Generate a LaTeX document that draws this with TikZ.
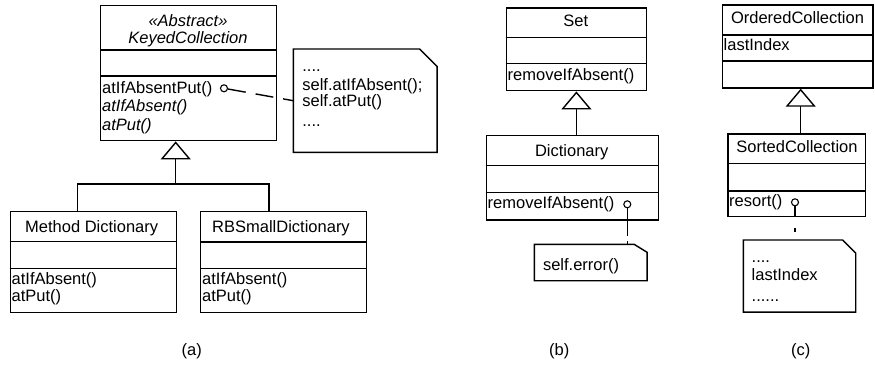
\documentclass[tikz,border=0pt]{standalone}
\usepackage{fontspec}
\setmainfont{Liberation Sans}
\usetikzlibrary{arrows.meta,calc}
\newcommand{\dfont}{\fontsize{16.5}{17}\selectfont}
\begin{document}
\begin{tikzpicture}[x=1pt,y=-1pt,line width=1.4pt,
  box/.style={draw, rectangle, inner sep=0pt, anchor=north west},
  notebox/.style={rectangle, inner sep=0pt, anchor=north west},
  t/.style={inner sep=0pt, anchor=base west, font=\dfont},
  tc/.style={inner sep=0pt, anchor=base, font=\dfont},
  it/.style={font=\dfont\itshape},
  inh/.style={-{Triangle[open,width=30pt,length=18pt]}},
  knob/.style={circle, draw, fill=white, inner sep=0pt, minimum size=7pt, line width=1.1pt}]
\useasboundingbox (0,0) rectangle (875,364);

% ---------- (a) ----------
\node[box, minimum width=176pt, minimum height=135pt] (kc) at (100,5) {};
\draw (kc.north west) ++(0,45) -- ++(176,0);
\draw (kc.north west) ++(0,71) -- ++(176,0);
\node[tc, it] (kcs) at (188,26) {«Abstract»};
\node[tc, it] (kcn) at (188,43.3) {KeyedCollection};
\node[t] (kcm1) at (101.5,93.3) {atIfAbsentPut()};
\node[t, it] (kcm2) at (101.5,111) {atIfAbsent()};
\node[t, it] (kcm3) at (101.5,130.7) {atPut()};

\node[box, minimum width=166pt, minimum height=101.3pt] (md) at (9.7,210.7) {};
\draw (md.north west) ++(0,31) -- ++(166,0);
\draw (md.north west) ++(0,57.6) -- ++(166,0);
\node[tc] (mdn) at (91.7,232.7) {Method Dictionary};
\node[t] (mdm1) at (11,284.3) {atIfAbsent()};
\node[t] (mdm2) at (11,301) {atPut()};

\node[box, minimum width=166pt, minimum height=101pt] (rb) at (200,211) {};
\draw (rb.north west) ++(0,31) -- ++(166,0);
\draw (rb.north west) ++(0,57.3) -- ++(166,0);
\node[tc] (rbn) at (281,232.7) {RBSmallDictionary};
\node[t] (rbm1) at (201.5,284.3) {atIfAbsent()};
\node[t] (rbm2) at (201.5,301) {atPut()};

\coordinate (ja) at (175.7,184);
\draw[inh] (ja) -- (ja |- kc.south);
\draw ($(md.north west)+(68,0)$) |- (ja) -| ($(rb.north west)+(69,0)$);

\node[notebox, minimum width=142.4pt, minimum height=102pt] (na) at (293.3,49) {};
\draw (na.north west) -- ([xshift=-17.5pt]na.north east) -- ([yshift=-17.5pt]na.north east) -- (na.south east) -- (na.south west) -- cycle;
\node[t] (na1) at (301.7,71.7) {....};
\node[t] (na2) at (301.7,90) {self.atIfAbsent();};
\node[t] (na3) at (301.7,106.7) {self.atPut()};
\node[t] (na4) at (301.7,126) {....};

\node[knob] (ca) at (224,88.3) {};
\draw[dash pattern=on 18pt off 10pt] (ca) -- (na.west);

\node[tc] (la) at (191.7,355) {(a)};

% ---------- (b) ----------
\node[box, minimum width=140pt, minimum height=82.7pt] (set) at (505.7,7.3) {};
\draw (set.north west) ++(0,30) -- ++(140,0);
\draw (set.north west) ++(0,56) -- ++(140,0);
\node[tc] (setn) at (575.7,26.7) {Set};
\node[t] (setm) at (507,80) {removeIfAbsent()};

\node[box, minimum width=172pt, minimum height=84.3pt] (dict) at (485.7,135) {};
\draw (dict.north west) ++(0,30.7) -- ++(172,0);
\draw (dict.north west) ++(0,57.3) -- ++(172,0);
\node[tc] (dictn) at (571.7,156.7) {Dictionary};
\node[t] (dictm) at (487,208.3) {removeIfAbsent()};

\draw[inh] (set.south |- dict.north) -- (set.south);

\node[notebox, minimum width=111.4pt, minimum height=35pt] (nb) at (534.3,244.3) {};
\draw (nb.north west) -- ([xshift=-13pt]nb.north east) -- ([yshift=-8pt]nb.north east) -- (nb.south east) -- (nb.south west) -- cycle;
\node[t] (nb1) at (542.3,270) {self.error()};

\node[knob] (cb) at (627.3,204.3) {};
\draw[dash pattern=on 28pt off 5pt] (cb) -- (cb |- nb.north);

\node[tc] (lb) at (559.3,355) {(b)};

% ---------- (c) ----------
\node[box, minimum width=150.6pt, minimum height=83pt] (oc) at (721.7,4.3) {};
\draw (oc.north west) ++(0,30.7) -- ++(150.6,0);
\draw (oc.north west) ++(0,56.7) -- ++(150.6,0);
\node[tc] (ocn) at (797.5,23.3) {OrderedCollection};
\node[t] (oca) at (723,50) {lastIndex};

\node[box, minimum width=137.7pt, minimum height=82.7pt] (sc) at (727.3,133.3) {};
\draw (sc.north west) ++(0,30) -- ++(137.7,0);
\draw (sc.north west) ++(0,57.7) -- ++(137.7,0);
\node[tc] (scn) at (797,152.7) {SortedCollection};
\node[t] (scm) at (728.5,206.7) {resort()};

\coordinate (jc) at ($(sc.north west)+(73.4,0)$);
\draw[inh] (jc) -- (jc |- oc.south);

\node[notebox, minimum width=111pt, minimum height=70.7pt] (nc) at (743.3,240) {};
\draw (nc.north west) -- ([xshift=-13pt]nc.north east) -- ([yshift=-13pt]nc.north east) -- (nc.south east) -- (nc.south west) -- cycle;
\node[t] (nc1) at (751,262.3) {....};
\node[t] (nc2) at (751,280.7) {lastIndex};
\node[t] (nc3) at (751,301) {......};

\node[knob] (cc) at (795,202.3) {};
\draw[dash pattern=on 10pt off 12pt on 4pt off 20pt] (cc) -- (cc |- nc.north);

\node[tc] (lc) at (800.7,355) {(c)};
\end{tikzpicture}
\end{document}
